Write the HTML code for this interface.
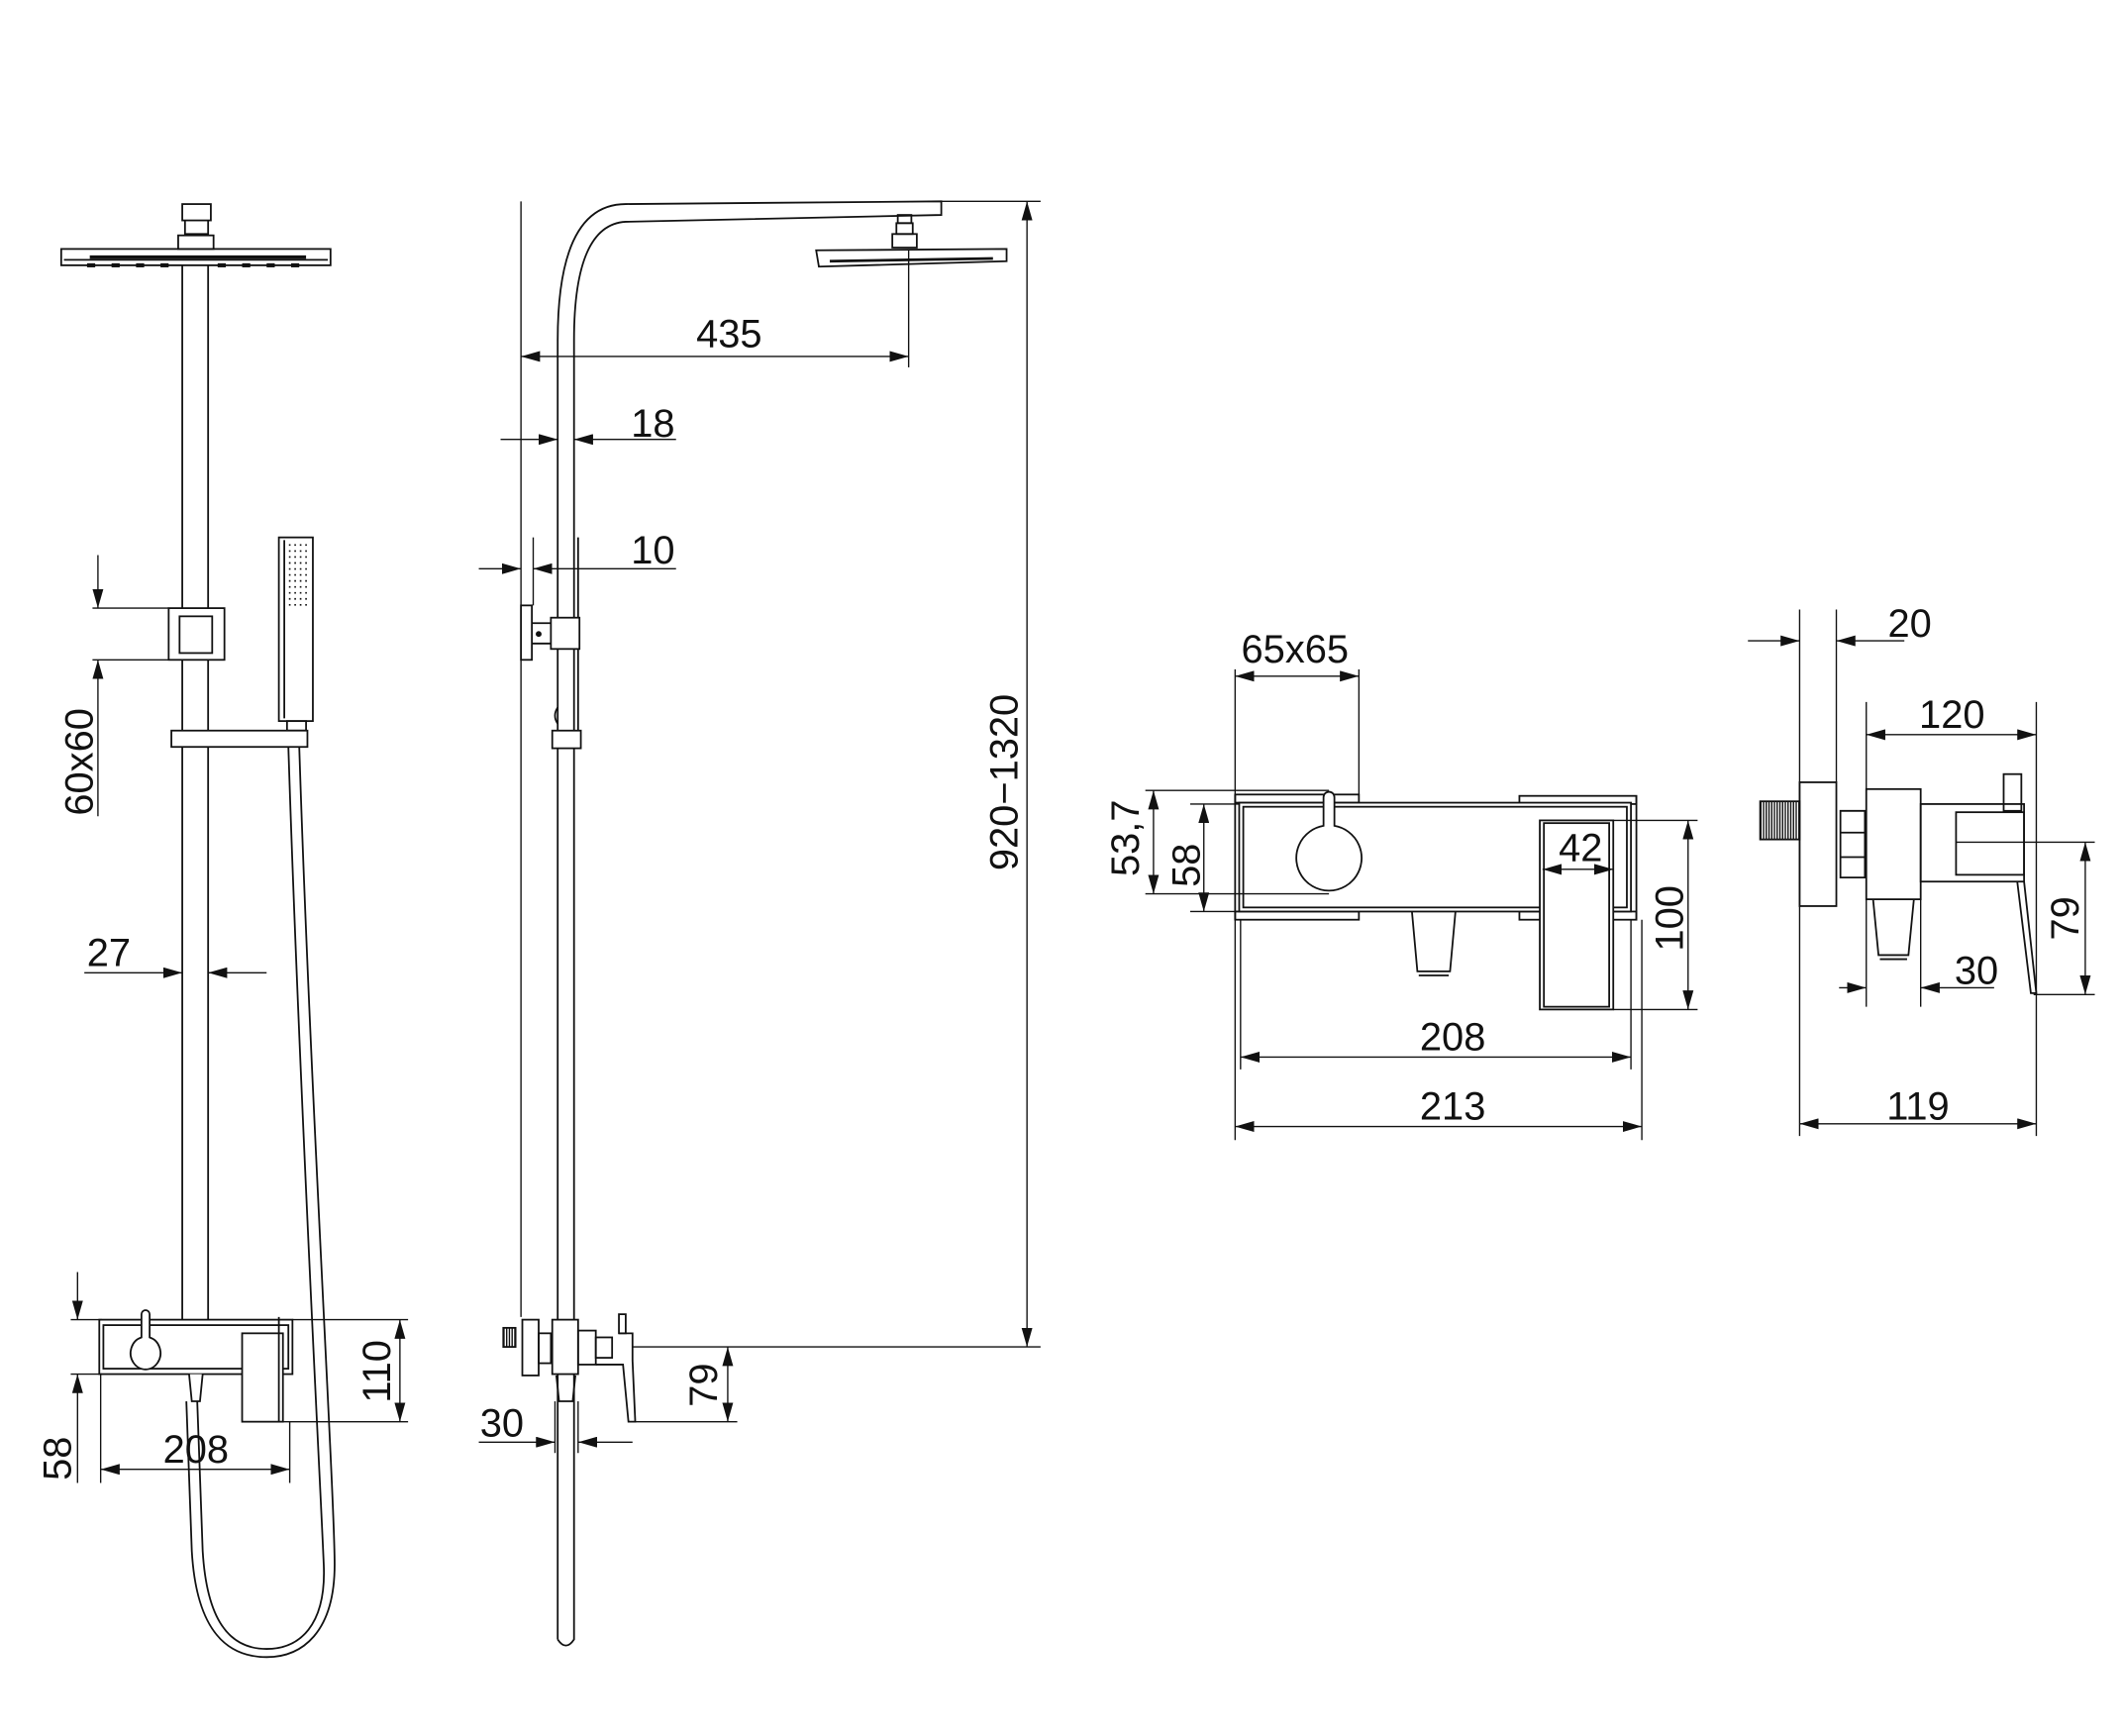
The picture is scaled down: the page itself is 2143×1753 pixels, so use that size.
<!DOCTYPE html>
<html><head><meta charset="utf-8"><style>
html,body{margin:0;padding:0;background:#fff}
svg{display:block}
text{font-family:"Liberation Sans",sans-serif;font-size:29px;fill:#111}
</style></head><body>
<svg width="2143" height="1753" viewBox="0 0 1560 1276" preserveAspectRatio="none" xmlns="http://www.w3.org/2000/svg">
<defs>
<marker id="a" viewBox="0 0 14 8" refX="14" refY="4" markerWidth="14" markerHeight="8" markerUnits="userSpaceOnUse" orient="auto-start-reverse"><path d="M0,0 L14,4 L0,8 z" fill="#111"/></marker>
<pattern id="h" width="2" height="4" patternUnits="userSpaceOnUse"><rect width="1" height="4" fill="#111"/></pattern>
</defs>
<g fill="none" stroke="#111" stroke-width="1.3">
<!-- ===== LEFT FRONT VIEW ===== -->
<rect x="134" y="150" width="21" height="12"/>
<path d="M136,162 L136,172 L153,172 L153,162"/>
<rect x="131" y="173" width="26" height="10"/>
<rect x="45" y="183" width="198" height="12"/>
<line x1="47" y1="191" x2="241" y2="191"/>
<line x1="66" y1="189" x2="225" y2="189" stroke-width="2.5"/>
<g stroke-width="3">
<line x1="64" y1="195" x2="70" y2="195"/><line x1="82" y1="195" x2="88" y2="195"/><line x1="100" y1="195" x2="106" y2="195"/><line x1="118" y1="195" x2="124" y2="195"/><line x1="160" y1="195" x2="166" y2="195"/><line x1="178" y1="195" x2="184" y2="195"/><line x1="196" y1="195" x2="202" y2="195"/><line x1="214" y1="195" x2="220" y2="195"/>
</g>
<line x1="134" y1="195" x2="134" y2="970"/>
<line x1="153" y1="195" x2="153" y2="970"/>
<rect x="124" y="447" width="41" height="38" fill="#fff"/>
<rect x="132" y="453" width="24" height="27"/>
<!-- hand shower -->
<rect x="205" y="395" width="25" height="135"/>
<line x1="209" y1="397" x2="209" y2="528"/>
<g stroke-dasharray="1.2 3.2" stroke-width="1.2">
<line x1="213" y1="400" x2="213" y2="446"/><line x1="217" y1="400" x2="217" y2="446"/><line x1="221" y1="400" x2="221" y2="446"/><line x1="225" y1="400" x2="225" y2="446"/>
</g>
<rect x="211" y="530" width="14" height="7"/>
<rect x="126" y="537" width="100" height="12" fill="#fff"/>
<!-- hose -->
<path d="M212,549 C220,800 236,1100 238,1150 C240,1195 220,1212 196,1212 C168,1212 152,1190 149,1140 L145,1030"/>
<path d="M220,549 C228,800 246,1100 246,1150 C246,1200 222,1218 196,1218 C162,1218 144,1192 141,1140 L137,1030"/>
<!-- mixer front -->
<rect x="73" y="970" width="142" height="40" fill="#fff"/>
<rect x="76" y="974" width="136" height="32"/>
<rect x="178" y="980" width="30" height="65" fill="#fff"/>
<line x1="205" y1="968" x2="205" y2="1045"/>
<path d="M104,966 A3,3 0 0 1 110,966 L110,983 A11,12 0 1 1 104,983 Z" fill="#fff"/>
<path d="M139,1010 L141,1030 L147,1030 L149,1010" fill="#fff"/>
<!-- dims left -->
<g stroke-width="1">
<line x1="68" y1="447" x2="124" y2="447"/><line x1="68" y1="485" x2="124" y2="485"/>
<line x1="72" y1="408" x2="72" y2="447" marker-end="url(#a)"/>
<line x1="72" y1="600" x2="72" y2="485" marker-end="url(#a)"/>
<line x1="62" y1="715" x2="134" y2="715" marker-end="url(#a)"/>
<line x1="196" y1="715" x2="153" y2="715" marker-end="url(#a)"/>
<line x1="215" y1="970" x2="300" y2="970"/><line x1="205" y1="1045" x2="300" y2="1045"/>
<line x1="294" y1="970" x2="294" y2="1045" marker-start="url(#a)" marker-end="url(#a)"/>
<line x1="52" y1="970" x2="75" y2="970"/><line x1="52" y1="1010" x2="75" y2="1010"/>
<line x1="57" y1="935" x2="57" y2="970" marker-end="url(#a)"/>
<line x1="57" y1="1090" x2="57" y2="1010" marker-end="url(#a)"/>
<line x1="74" y1="1010" x2="74" y2="1090"/><line x1="213" y1="1045" x2="213" y2="1090"/>
<line x1="74" y1="1080" x2="213" y2="1080" marker-start="url(#a)" marker-end="url(#a)"/>
</g>

<!-- ===== SIDE VIEW ===== -->
<line x1="383" y1="148" x2="383" y2="968" stroke-width="1"/>
<path d="M410,1205 L410,250 Q410,150 460,150 L692,148 L692,158 L460,163 Q422,165 422,250 L422,1205 Q416,1214 410,1205"/>
<rect x="660" y="158" width="10" height="6"/>
<rect x="659" y="164" width="12" height="8"/>
<rect x="656" y="172" width="18" height="10"/>
<path d="M600,184 L740,183 L740,192 L602,196 Z"/>
<line x1="610" y1="192" x2="730" y2="190" stroke-width="2"/>
<rect x="383" y="445" width="8" height="40"/>
<line x1="391" y1="458" x2="405" y2="458"/><line x1="391" y1="473" x2="405" y2="473"/>
<circle cx="396" cy="466" r="1.5" fill="#111"/>
<rect x="405" y="454" width="21" height="23" fill="#fff"/>
<line x1="425" y1="395" x2="425" y2="454"/>
<line x1="425" y1="477" x2="425" y2="537"/>
<path d="M410,520 Q406,526 410,532"/>
<rect x="406" y="537" width="21" height="13" fill="#fff"/>
<!-- side mixer -->
<rect x="370" y="976" width="9" height="14" fill="url(#h)"/>
<rect x="384" y="970" width="12" height="41"/>
<rect x="396" y="980" width="9" height="22"/>
<rect x="406" y="970" width="19" height="40" fill="#fff"/>
<rect x="425" y="978" width="13" height="25"/>
<rect x="438" y="983" width="12" height="15"/>
<rect x="455" y="966" width="5" height="14"/>
<path d="M455,980 L465,980 L465,1000 L467,1045 L462,1045 L458,1003 L438,1003"/>
<path d="M409,1011 L411,1030 L421,1030 L423,1011"/>
<!-- side dims -->
<g stroke-width="1">
<line x1="668" y1="183" x2="668" y2="270"/>
<line x1="383" y1="262" x2="668" y2="262" marker-start="url(#a)" marker-end="url(#a)"/>
<line x1="368" y1="323" x2="410" y2="323" marker-end="url(#a)"/>
<line x1="497" y1="323" x2="422" y2="323" marker-end="url(#a)"/>
<line x1="392" y1="395" x2="392" y2="445"/>
<line x1="352" y1="418" x2="383" y2="418" marker-end="url(#a)"/>
<line x1="497" y1="418" x2="392" y2="418" marker-end="url(#a)"/>
<line x1="692" y1="148" x2="765" y2="148"/>
<line x1="465" y1="990" x2="765" y2="990"/>
<line x1="755" y1="148" x2="755" y2="990" marker-start="url(#a)" marker-end="url(#a)"/>
<line x1="465" y1="1045" x2="542" y2="1045"/>
<line x1="535" y1="990" x2="535" y2="1045" marker-start="url(#a)" marker-end="url(#a)"/>
<line x1="408" y1="1030" x2="408" y2="1068"/><line x1="425" y1="1030" x2="425" y2="1068"/>
<line x1="352" y1="1060" x2="408" y2="1060" marker-end="url(#a)"/>
<line x1="465" y1="1060" x2="425" y2="1060" marker-end="url(#a)"/>
</g>

<!-- ===== MIXER TOP VIEW ===== -->
<rect x="908" y="584" width="91" height="6"/>
<rect x="908" y="670" width="91" height="6"/>
<line x1="908" y1="584" x2="908" y2="676"/>
<rect x="1117" y="585" width="86" height="6"/>
<rect x="1117" y="670" width="86" height="6"/>
<line x1="1203" y1="585" x2="1203" y2="676"/>
<rect x="911" y="590" width="288" height="80" fill="#fff"/>
<rect x="914" y="593" width="282" height="74"/>
<path d="M973,586 A4,4 0 0 1 981,586 L981,607 A24,24 0 1 1 973,607 Z" fill="#fff"/>
<path d="M1038,670 L1042,714 L1066,714 L1070,670"/>
<line x1="1043" y1="717" x2="1065" y2="717"/>
<rect x="1132" y="603" width="54" height="139" fill="#fff"/>
<rect x="1135" y="605" width="48" height="135"/>
<g stroke-width="1">
<line x1="908" y1="492" x2="908" y2="838"/>
<line x1="999" y1="492" x2="999" y2="584"/>
<line x1="908" y1="497" x2="999" y2="497" marker-start="url(#a)" marker-end="url(#a)"/>
<line x1="842" y1="581" x2="977" y2="581"/><line x1="842" y1="657" x2="977" y2="657"/>
<line x1="848" y1="581" x2="848" y2="657" marker-start="url(#a)" marker-end="url(#a)"/>
<line x1="875" y1="591" x2="911" y2="591"/><line x1="875" y1="670" x2="911" y2="670"/>
<line x1="885" y1="591" x2="885" y2="670" marker-start="url(#a)" marker-end="url(#a)"/>
<line x1="1134" y1="639" x2="1186" y2="639" marker-start="url(#a)" marker-end="url(#a)"/>
<line x1="1186" y1="603" x2="1248" y2="603"/><line x1="1186" y1="742" x2="1248" y2="742"/>
<line x1="1241" y1="603" x2="1241" y2="742" marker-start="url(#a)" marker-end="url(#a)"/>
<line x1="912" y1="676" x2="912" y2="786"/><line x1="1199" y1="676" x2="1199" y2="786"/>
<line x1="912" y1="777" x2="1199" y2="777" marker-start="url(#a)" marker-end="url(#a)"/>
<line x1="1207" y1="676" x2="1207" y2="838"/>
<line x1="908" y1="828" x2="1207" y2="828" marker-start="url(#a)" marker-end="url(#a)"/>
</g>

<!-- ===== MIXER SIDE VIEW ===== -->
<line x1="1323" y1="448" x2="1323" y2="835" stroke-width="1"/>
<line x1="1350" y1="448" x2="1350" y2="575" stroke-width="1"/>
<rect x="1323" y="575" width="27" height="91"/>
<rect x="1294" y="589" width="29" height="28" fill="url(#h)"/>
<path d="M1353,596 L1371,596 L1371,645 L1353,645 Z M1353,612 L1371,612 M1353,630 L1371,630"/>
<rect x="1372" y="580" width="40" height="81"/>
<path d="M1377,661 L1381,702 L1403,702 L1407,661"/>
<line x1="1382" y1="705" x2="1402" y2="705"/>
<rect x="1412" y="591" width="76" height="57"/>
<rect x="1438" y="597" width="50" height="46"/>
<rect x="1473" y="569" width="13" height="27"/>
<path d="M1488,648 L1497,730 L1493,730 L1483,648"/>
<g stroke-width="1">
<line x1="1285" y1="471" x2="1323" y2="471" marker-end="url(#a)"/>
<line x1="1400" y1="471" x2="1350" y2="471" marker-end="url(#a)"/>
<line x1="1372" y1="516" x2="1372" y2="740"/>
<line x1="1497" y1="516" x2="1497" y2="835"/>
<line x1="1372" y1="540" x2="1497" y2="540" marker-start="url(#a)" marker-end="url(#a)"/>
<line x1="1438" y1="619" x2="1540" y2="619"/><line x1="1495" y1="731" x2="1540" y2="731"/>
<line x1="1533" y1="619" x2="1533" y2="731" marker-start="url(#a)" marker-end="url(#a)"/>
<line x1="1412" y1="661" x2="1412" y2="740"/>
<line x1="1352" y1="726" x2="1372" y2="726" marker-end="url(#a)"/>
<line x1="1466" y1="726" x2="1412" y2="726" marker-end="url(#a)"/>
<line x1="1323" y1="826" x2="1497" y2="826" marker-start="url(#a)" marker-end="url(#a)"/>
</g>
</g>

<!-- labels -->
<g>
<text x="68" y="560" transform="rotate(-90 68 560)" text-anchor="middle">60x60</text>
<text x="80" y="710" text-anchor="middle">27</text>
<text x="287" y="1008" transform="rotate(-90 287 1008)" text-anchor="middle">110</text>
<text x="52" y="1072" transform="rotate(-90 52 1072)" text-anchor="middle">58</text>
<text x="144" y="1075" text-anchor="middle">208</text>
<text x="536" y="255" text-anchor="middle">435</text>
<text x="480" y="321" text-anchor="middle">18</text>
<text x="480" y="414" text-anchor="middle">10</text>
<text x="748" y="575" transform="rotate(-90 748 575)" text-anchor="middle">920−1320</text>
<text x="527" y="1018" transform="rotate(-90 527 1018)" text-anchor="middle">79</text>
<text x="369" y="1056" text-anchor="middle">30</text>
<text x="952" y="487" text-anchor="middle">65x65</text>
<text x="837" y="616" transform="rotate(-90 837 616)" text-anchor="middle">53,7</text>
<text x="882" y="636" transform="rotate(-90 882 636)" text-anchor="middle">58</text>
<text x="1162" y="633" text-anchor="middle">42</text>
<text x="1237" y="675" transform="rotate(-90 1237 675)" text-anchor="middle">100</text>
<text x="1068" y="772" text-anchor="middle">208</text>
<text x="1068" y="823" text-anchor="middle">213</text>
<text x="1404" y="468" text-anchor="middle">20</text>
<text x="1435" y="535" text-anchor="middle">120</text>
<text x="1528" y="675" transform="rotate(-90 1528 675)" text-anchor="middle">79</text>
<text x="1453" y="723" text-anchor="middle">30</text>
<text x="1410" y="823" text-anchor="middle">119</text>
</g>
</svg>
</body></html>
